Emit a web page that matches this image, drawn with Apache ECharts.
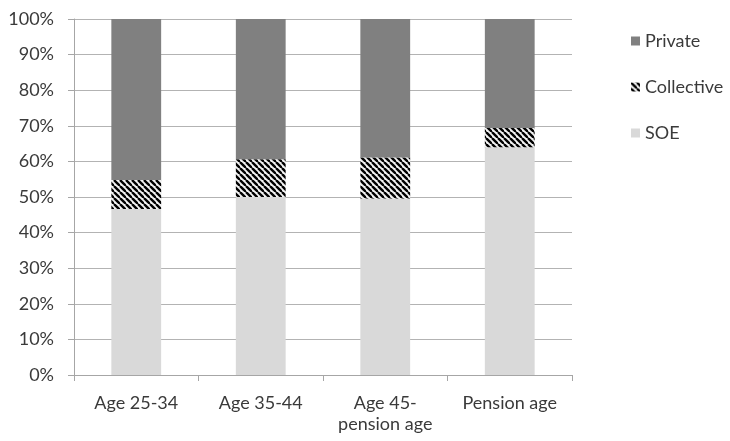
<!DOCTYPE html>
<html>
<head>
<meta charset="utf-8">
<script src="https://cdn.jsdelivr.net/npm/echarts@6/dist/echarts.min.js"></script>
<style>
html,body{margin:0;padding:0;background:#fff;}
#chart{width:730px;height:441px;}
</style>
</head>
<body>
<div id="chart"></div>
<script>
const categories = ['Age 25-34', 'Age 35-44', 'Age 45-\npension age', 'Pension age'];
const soe = [46.6, 50.0, 49.6, 64.0];
const collective = [8.2, 10.6, 11.5, 5.4];
const privateVals = [45.2, 39.4, 38.9, 30.6];
const yTicks = [0, 10, 20, 30, 40, 50, 60, 70, 80, 90, 100];

function makeHatch() {
  const s = 6;
  const c = document.createElement('canvas');
  c.width = s; c.height = s;
  const ctx = c.getContext('2d');
  ctx.fillStyle = '#f2f2f2';
  ctx.fillRect(0, 0, s, s);
  ctx.strokeStyle = '#000';
  ctx.lineWidth = 2.4;
  for (let k = -1; k <= 1; k++) {
    ctx.beginPath();
    ctx.moveTo(k * s, 0);
    ctx.lineTo(k * s + s, s);
    ctx.stroke();
  }
  return c;
}

const chart = echarts.init(document.getElementById('chart'), null, {renderer: 'canvas'});
const font = 'Lato';
const textColor = '#3a3a3a';
chart.setOption({
  animation: false,
  backgroundColor: '#fff',
  textStyle: {fontFamily: font},
  grid: {left: 74, right: 158, top: 19, bottom: 66},
  legend: {
    orient: 'vertical',
    left: 626,
    top: 27,
    itemWidth: 9,
    itemHeight: 9,
    itemGap: 28,
    icon: 'rect',
    data: ['Private', 'Collective', 'SOE'],
    textStyle: {fontFamily: font, fontSize: 18, color: textColor, lineHeight: 18}
  },
  xAxis: {
    type: 'category',
    data: categories,
    axisLine: {lineStyle: {color: '#a6a6a6', width: 1}},
    axisTick: {show: true, length: 6, lineStyle: {color: '#a6a6a6'}},
    axisLabel: {fontFamily: font, fontSize: 18, color: textColor, margin: 18, lineHeight: 21}
  },
  yAxis: {
    type: 'value',
    min: 0,
    max: 100,
    interval: 10,
    axisLine: {show: true, lineStyle: {color: '#a6a6a6', width: 1}},
    axisTick: {show: true, length: 6, lineStyle: {color: '#a6a6a6'}},
    splitLine: {show: true, lineStyle: {color: '#b3b3b3', width: 1}},
    axisLabel: {fontFamily: font, fontSize: 18, color: textColor, margin: 20,
      formatter: v => yTicks.includes(v) ? v + '%' : ''}
  },
  series: [
    {name: 'SOE', type: 'bar', stack: 'total', data: soe, barWidth: '40%',
      itemStyle: {color: '#d9d9d9'}},
    {name: 'Collective', type: 'bar', stack: 'total', data: collective, barWidth: '40%',
      itemStyle: {color: {image: makeHatch(), repeat: 'repeat'}}},
    {name: 'Private', type: 'bar', stack: 'total', data: privateVals, barWidth: '40%',
      itemStyle: {color: '#808080'}}
  ]
});
</script>
</body>
</html>
